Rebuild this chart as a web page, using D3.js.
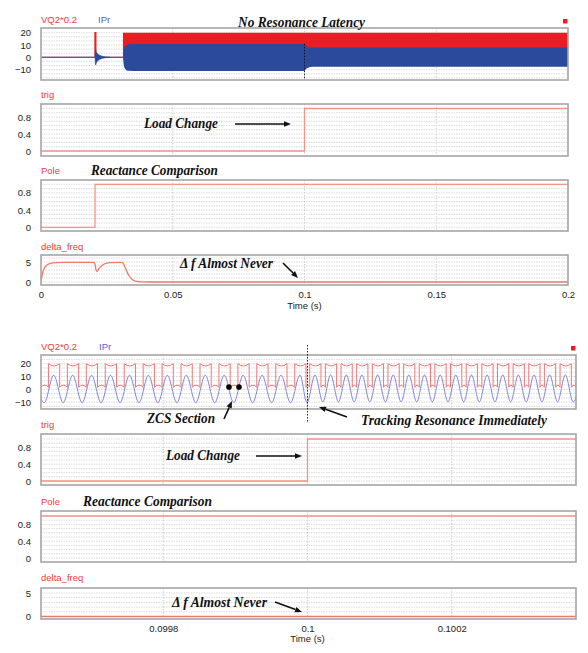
<!DOCTYPE html>
<html><head><meta charset="utf-8">
<script src="https://cdn.jsdelivr.net/npm/d3@7/dist/d3.min.js"></script>
<style>
html,body{margin:0;padding:0;background:#fff;}
svg{display:block;}
.lbl{font-family:"Liberation Sans",Arial,sans-serif;font-size:9.5px;}
.ann{font-family:"Liberation Serif","Times New Roman",serif;font-weight:bold;font-style:italic;font-size:14.5px;fill:#111;}
</style></head><body>
<svg id="chart" width="588" height="653"></svg>
<script>
// ================= DATA =================
// ---- overview (0 .. 0.2 s) ----
const topDomain = [0, 0.2];
const topTickX = [0, 0.05, 0.1, 0.15, 0.2];
const topTickXLabels = ["0", "0.05", "0.1", "0.15", "0.2"];
const vqTicks = [20, 10, 0, -10];
const unitTicks = [0.8, 0.4, 0];
const dfTicks = [5, 0];

// VQ2*0.2 before the converter starts (one spike at the pole change)
const vqPreT = [0, 0.0205, 0.0205, 0.0208, 0.0208, 0.0311];
const vqPreV = [0, 0, 20, 20, 0, 0];
// VQ2*0.2 switching band envelope
const vqEnvT  = [0.0311, 0.2];
const vqEnvHi = [20, 20];
const vqEnvLo = [0, 0];
// IPr before start
const iprPreT = [0, 0.0311];
const iprPreV = [0, 0];
// IPr decaying burst at the pole change
const iprBurstT  = [0.0205, 0.0207, 0.0210, 0.0214, 0.0219, 0.0225, 0.0232, 0.0240, 0.0250, 0.0262];
const iprBurstHi = [0, 5.9, 4.3, 3.0, 2.1, 1.4, 0.9, 0.5, 0.25, 0];
const iprBurstLo = [0, -6.3, -4.6, -3.2, -2.2, -1.5, -0.9, -0.5, -0.25, 0];
// IPr oscillation envelope
const iprEnvT  = [0.0311, 0.0314, 0.0318, 0.0324, 0.0332, 0.0345, 0.1, 0.1004, 0.101, 0.1018, 0.103, 0.2];
const iprEnvHi = [0, 5.5, 8.3, 9.8, 10.5, 10.8, 10.8, 9.8, 8.8, 8.2, 7.9, 7.9];
const iprEnvLo = [0, -6.0, -9.0, -10.5, -11.0, -11.1, -11.1, -10.0, -8.9, -8.1, -7.6, -7.6];
// trig, Pole, delta_freq
const trigTopT = [0, 0.1, 0.1, 0.2];
const trigTopV = [0, 0, 1, 1];
const poleTopT = [0, 0.0205, 0.0205, 0.2];
const poleTopV = [0, 0, 1, 1];
const dfTopT = [0, 0.0005, 0.001, 0.002, 0.003, 0.004, 0.006, 0.008, 0.0195, 0.0204, 0.0208, 0.0212,
                0.0219, 0.0229, 0.024, 0.026, 0.0304, 0.0311, 0.0318, 0.0326, 0.0335, 0.0345, 0.036, 0.038, 0.045, 0.2];
const dfTopV = [0, 2.0, 3.1, 4.1, 4.5, 4.7, 4.85, 4.9, 4.9, 4.75, 3.2, 2.6,
                3.3, 4.0, 4.5, 4.85, 4.9, 4.8, 3.8, 2.6, 1.5, 0.7, 0.2, 0.05, 0, 0];

// ---- zoom (around the load change at 0.1 s) ----
const botDomain = [0.0996304, 0.1003724];
const botTickX = [0.0998, 0.1, 0.1002];
const botTickXLabels = ["0.0998", "0.1", "0.1002"];
// IPr extrema (alternating peak / trough)
const iprZoomT = [0.0996217, 0.0996349, 0.0996480, 0.0996612, 0.0996743, 0.0996874, 0.0997005, 0.0997137,
  0.0997268, 0.0997400, 0.0997531, 0.0997663, 0.0997794, 0.0997925, 0.0998056, 0.0998188, 0.0998319,
  0.0998451, 0.0998582, 0.0998714, 0.0998845, 0.0998977, 0.0999108, 0.0999239, 0.0999370, 0.0999502,
  0.0999633, 0.0999765, 0.0999896, 0.0999993,
  0.1000104, 0.1000213, 0.1000321, 0.1000430, 0.1000538, 0.1000647, 0.1000755, 0.1000864, 0.1000972,
  0.1001081, 0.1001189, 0.1001298, 0.1001406, 0.1001515, 0.1001623, 0.1001732, 0.1001840, 0.1001949,
  0.1002057, 0.1002166, 0.1002274, 0.1002383, 0.1002491, 0.1002600, 0.1002708, 0.1002817, 0.1002925,
  0.1003034, 0.1003142, 0.1003251, 0.1003359, 0.1003468, 0.1003576, 0.1003685, 0.1003793];
const iprZoomV = [11, -10.5, 11, -10.5, 11, -10.5, 11, -10.5, 11, -10.5, 11, -10.5, 11, -10.5, 11, -10.5,
  11, -10.5, 11, -10.5, 11, -10.5, 11, -10.5, 11, -10.5, 11, -10.5, 11, -10.3,
  11.2, -9.8, 11.2, -9.8, 11.2, -9.8, 11.2, -9.8, 11.2, -9.8, 11.2, -9.8, 11.2, -9.8, 11.2, -9.8, 11.2,
  -9.8, 11.2, -9.8, 11.2, -9.8, 11.2, -9.8, 11.2, -9.8, 11.2, -9.8, 11.2, -9.8, 11.2, -9.8, 11.2, -9.8, 11.2];
// VQ2*0.2 pulses (rising / falling edge times)
const vqRiseT = [0.0996144, 0.0996407, 0.0996670, 0.0996932, 0.0997195, 0.0997458, 0.0997721, 0.0997983,
  0.0998246, 0.0998509, 0.0998772, 0.0999035, 0.0999297, 0.0999560, 0.0999823,
  0.1000031, 0.1000248, 0.1000465, 0.1000682, 0.1000899, 0.1001116, 0.1001333, 0.1001550, 0.1001767,
  0.1001984, 0.1002201, 0.1002418, 0.1002635, 0.1002852, 0.1003069, 0.1003286, 0.1003503, 0.1003726];
const vqFallT = [0.0996300, 0.0996563, 0.0996826, 0.0997088, 0.0997351, 0.0997614, 0.0997877, 0.0998139,
  0.0998402, 0.0998665, 0.0998928, 0.0999191, 0.0999453, 0.0999716, 0.0999979,
  0.1000187, 0.1000404, 0.1000621, 0.1000838, 0.1001055, 0.1001272, 0.1001489, 0.1001706, 0.1001923,
  0.1002140, 0.1002357, 0.1002574, 0.1002791, 0.1003008, 0.1003225, 0.1003442, 0.1003659, 0.1003882];
const vqHigh = 20, vqDip = 18.3, vqLow = 1.6, vqHump = 3.2;
const trigBotT = [0.0996304, 0.1, 0.1, 0.1003724];
const trigBotV = [0, 0, 1, 1];
const poleBotT = [0.0996304, 0.1003724];
const poleBotV = [1, 1];
const dfBotT = [0.0996304, 0.1003724];
const dfBotV = [0, 0];
const zcsT = [0.0998911, 0.0999050];
const zcsV = [1.8, 1.8];

// ================= DRAW =================
const svg = d3.select("#chart");
const defs = svg.append("defs");
const topX = d3.scaleLinear().domain(topDomain).range([41, 568]);
const botX = d3.scaleLinear().domain(botDomain).range([41, 576]);
const zip = (a, b) => a.map((v, i) => [v, b[i]]);
const RED = "#ec1c24", BLUE = "#2c4a9c", SALMON = "#f29583", DFRED = "#ee7a68";
let clipN = 0;

function panel(x, y0, y1, dom, hgrid, vgrid) {
  const y = d3.scaleLinear().domain(dom).range([y1, y0]);
  const [xa, xb] = x.range();
  const id = "c" + (clipN++);
  defs.append("clipPath").attr("id", id).append("rect")
    .attr("x", xa).attr("y", y0).attr("width", xb - xa).attr("height", y1 - y0);
  const g = svg.append("g");
  g.selectAll(null).data(hgrid.filter(v => y(v) > y0 + 1 && y(v) < y1 - 1)).join("line")
    .attr("x1", xa).attr("x2", xb).attr("y1", d => y(d)).attr("y2", d => y(d))
    .attr("stroke", "#d2d2d2").attr("stroke-width", 0.8).attr("stroke-dasharray", "1.5,1");
  g.selectAll(null).data(vgrid).join("line")
    .attr("x1", d => x(d)).attr("x2", d => x(d)).attr("y1", y0).attr("y2", y1)
    .attr("stroke", "#c8c8c8").attr("stroke-width", 0.9).attr("stroke-dasharray", "1.5,1.5");
  const plot = g.append("g").attr("clip-path", `url(#${id})`);
  return {x, y, y0, y1, g, plot, frame() {
    svg.append("rect").attr("x", xa).attr("y", y0).attr("width", xb - xa).attr("height", y1 - y0)
      .attr("fill", "none").attr("stroke", "#a6a6a6").attr("stroke-width", 1.6);
  }};
}
function yAxis(p, ticks) {
  const ga = svg.append("g").attr("transform", `translate(${p.x.range()[0]},0)`)
    .call(d3.axisLeft(p.y).tickValues(ticks).tickSize(0).tickPadding(10).tickFormat(d3.format("~g")));
  ga.select(".domain").remove();
  ga.attr("font-family", '"Liberation Sans",Arial,sans-serif').attr("font-size", 9.5).attr("color", "#222");
}
function xAxis(x, yPos, ticks, labels, pad) {
  const ga = svg.append("g").attr("transform", `translate(0,${yPos})`)
    .call(d3.axisBottom(x).tickValues(ticks).tickSize(0).tickPadding(pad).tickFormat((d, i) => labels[i]));
  ga.select(".domain").remove();
  ga.attr("font-family", '"Liberation Sans",Arial,sans-serif').attr("font-size", 9.5).attr("color", "#222");
}
function label(x, y, txt, col) {
  svg.append("text").attr("class", "lbl").attr("x", x).attr("y", y).attr("fill", col).text(txt);
}
function ann(x, y, txt, w) {
  svg.append("text").attr("class", "ann").attr("x", x).attr("y", y)
    .attr("textLength", w).attr("lengthAdjust", "spacingAndGlyphs").text(txt);
}
function arrow(x1, y1, x2, y2) {
  const a = Math.atan2(y2 - y1, x2 - x1), L = 7, W = 2.8;
  const bx = x2 - L * Math.cos(a), by = y2 - L * Math.sin(a);
  svg.append("line").attr("x1", x1).attr("y1", y1).attr("x2", bx).attr("y2", by)
    .attr("stroke", "#111").attr("stroke-width", 1.6);
  svg.append("polygon").attr("fill", "#111").attr("points",
    [[x2, y2], [bx + W * Math.sin(a), by - W * Math.cos(a)], [bx - W * Math.sin(a), by + W * Math.cos(a)]].map(p => p.join(",")).join(" "));
}
const lineOf = (p, curve) => d3.line().x(d => p.x(d[0])).y(d => p.y(d[1])).curve(curve || d3.curveLinear);

const vqGrid = d3.range(-20, 30, 10 / 3);
const unitGrid = d3.range(0, 1.15, 0.1);
const dfGrid = d3.range(0, 7, 1);

// ---------- TOP ----------
const t1 = panel(topX, 28, 80, [-18.46, 23.82], vqGrid, [0.05, 0.1, 0.15]);
t1.plot.append("path").attr("d", lineOf(t1)(zip(vqPreT, vqPreV))).attr("fill", "none").attr("stroke", RED).attr("stroke-width", 1.3);
t1.plot.append("path").attr("d", lineOf(t1)(zip(iprPreT, iprPreV))).attr("fill", "none").attr("stroke", "#4b5fc0").attr("stroke-width", 1.2);
t1.plot.append("path").attr("d", d3.area().x(d => topX(d[0])).y0(d => t1.y(d[2])).y1(d => t1.y(d[1])).curve(d3.curveMonotoneX)(
  iprBurstT.map((t, i) => [t, iprBurstHi[i], iprBurstLo[i]]))).attr("fill", BLUE).attr("stroke", BLUE).attr("stroke-width", 0.6);
t1.plot.append("path").attr("d", d3.area().x(d => topX(d[0])).y0(d => t1.y(d[2])).y1(d => t1.y(d[1]))(
  vqEnvT.map((t, i) => [t, vqEnvHi[i], vqEnvLo[i]]))).attr("fill", RED);
t1.plot.append("path").attr("d", d3.area().x(d => topX(d[0])).y0(d => t1.y(d[2])).y1(d => t1.y(d[1])).curve(d3.curveMonotoneX)(
  iprEnvT.map((t, i) => [t, iprEnvHi[i], iprEnvLo[i]]))).attr("fill", BLUE);
svg.append("line").attr("x1", topX(0.1)).attr("x2", topX(0.1)).attr("y1", t1.y(11)).attr("y2", 80)
  .attr("stroke", "#111").attr("stroke-width", 0.9).attr("stroke-dasharray", "1.5,1.5");
t1.frame(); yAxis(t1, vqTicks);

const t2 = panel(topX, 104, 156, [-0.118, 1.106], unitGrid, [0.05, 0.1, 0.15]);
t2.plot.append("path").attr("d", lineOf(t2)(zip(trigTopT, trigTopV))).attr("fill", "none").attr("stroke", SALMON).attr("stroke-width", 1.3);
t2.frame(); yAxis(t2, unitTicks);

const t3 = panel(topX, 180, 231, [-0.086, 1.1], unitGrid, [0.05, 0.1, 0.15]);
t3.plot.append("path").attr("d", lineOf(t3)(zip(poleTopT, poleTopV))).attr("fill", "none").attr("stroke", SALMON).attr("stroke-width", 1.3);
t3.frame(); yAxis(t3, unitTicks);

const t4 = panel(topX, 255, 285, [-0.75, 6.75], dfGrid, [0.05, 0.1, 0.15]);
t4.plot.append("path").attr("d", lineOf(t4, d3.curveMonotoneX)(zip(dfTopT, dfTopV))).attr("fill", "none").attr("stroke", DFRED).attr("stroke-width", 1.3);
t4.frame(); yAxis(t4, dfTicks);
xAxis(topX, 285, topTickX, topTickXLabels, 6);

label(41, 22.5, "VQ2*0.2", "#f03a3a"); label(98, 22.5, "IPr", "#5b5bd6");
label(41, 98, "trig", "#f03a3a"); label(41, 173.5, "Pole", "#f03a3a"); label(41, 249.5, "delta_freq", "#f03a3a");
svg.append("text").attr("class", "lbl").attr("x", topX(0.1)).attr("y", 308.5).attr("text-anchor", "middle").attr("fill", "#222").text("Time (s)");
svg.append("rect").attr("x", 563).attr("y", 19).attr("width", 4.5).attr("height", 4.5).attr("fill", RED);

ann(238, 26.5, "No Resonance Latency", 127);
ann(144, 128, "Load Change", 74); arrow(235, 124, 291, 124);
ann(91, 174.5, "Reactance Comparison", 127);
ann(180, 268, "\u0394 f Almost Never", 93); arrow(283, 263, 298, 278);

// ---------- BOTTOM ----------
const b1 = panel(botX, 355, 409, [-15.39, 26.8], vqGrid, botTickX);
b1.plot.append("path").attr("d", lineOf(b1, d3.curveMonotoneX)(zip(iprZoomT, iprZoomV)))
  .attr("fill", "none").attr("stroke", "#8282da").attr("stroke-width", 1);
{
  const x = botX, y = b1.y, p = d3.path();
  p.moveTo(x(vqFallT[0]), y(vqLow));
  for (let i = 1; i < vqRiseT.length; i++) {
    const f0 = vqFallT[i - 1], r = vqRiseT[i], f = vqFallT[i];
    p.quadraticCurveTo((x(f0) + x(r)) / 2, y(2 * vqHump - vqLow), x(r), y(vqLow));
    p.lineTo(x(r), y(vqHigh));
    p.quadraticCurveTo((x(r) + x(f)) / 2, y(2 * vqDip - vqHigh), x(f), y(vqHigh));
    p.lineTo(x(f), y(vqLow));
  }
  b1.plot.append("path").attr("d", p.toString()).attr("fill", "none").attr("stroke", "#f27676").attr("stroke-width", 1);
}
b1.frame(); yAxis(b1, vqTicks);
svg.selectAll(null).data(zip(zcsT, zcsV)).join("circle")
  .attr("cx", d => botX(d[0])).attr("cy", d => b1.y(d[1])).attr("r", 2.8).attr("fill", "#000");
svg.append("line").attr("x1", botX(0.1)).attr("x2", botX(0.1)).attr("y1", 345).attr("y2", 423)
  .attr("stroke", "#111").attr("stroke-width", 0.9).attr("stroke-dasharray", "1.5,1.5");

const b2 = panel(botX, 434, 485, [-0.095, 1.119], unitGrid, botTickX);
b2.plot.append("path").attr("d", lineOf(b2)(zip(trigBotT, trigBotV))).attr("fill", "none").attr("stroke", SALMON).attr("stroke-width", 1.3);
b2.frame(); yAxis(b2, unitTicks);

const b3 = panel(botX, 511, 562, [-0.095, 1.119], unitGrid, botTickX);
b3.plot.append("path").attr("d", lineOf(b3)(zip(poleBotT, poleBotV))).attr("fill", "none").attr("stroke", SALMON).attr("stroke-width", 1.6);
b3.frame(); yAxis(b3, unitTicks);

const b4 = panel(botX, 588, 619, [-0.53, 6.06], dfGrid, botTickX);
b4.plot.append("path").attr("d", lineOf(b4)(zip(dfBotT, dfBotV))).attr("fill", "none").attr("stroke", DFRED).attr("stroke-width", 1.4);
b4.frame(); yAxis(b4, dfTicks);
xAxis(botX, 619, botTickX, botTickXLabels, 6);

label(41, 349.5, "VQ2*0.2", "#f03a3a"); label(99, 349.5, "IPr", "#5b5bd6");
label(41, 427.5, "trig", "#f03a3a"); label(41, 504.5, "Pole", "#f03a3a"); label(41, 580.5, "delta_freq", "#f03a3a");
svg.append("text").attr("class", "lbl").attr("x", botX(0.1)).attr("y", 641.5).attr("text-anchor", "middle").attr("fill", "#222").text("Time (s)");
svg.append("rect").attr("x", 571).attr("y", 346).attr("width", 4.5).attr("height", 4.5).attr("fill", RED);

ann(147, 422.5, "ZCS Section", 68); arrow(224, 419, 232, 401);
ann(361, 425, "Tracking Resonance Immediately", 186); arrow(347, 417, 319, 407);
ann(166, 460, "Load Change", 74); arrow(256, 456, 302, 456);
ann(83, 506, "Reactance Comparison", 129);
ann(172, 607, "\u0394 f Almost Never", 95); arrow(275, 602, 302, 612);
</script>
</body></html>
